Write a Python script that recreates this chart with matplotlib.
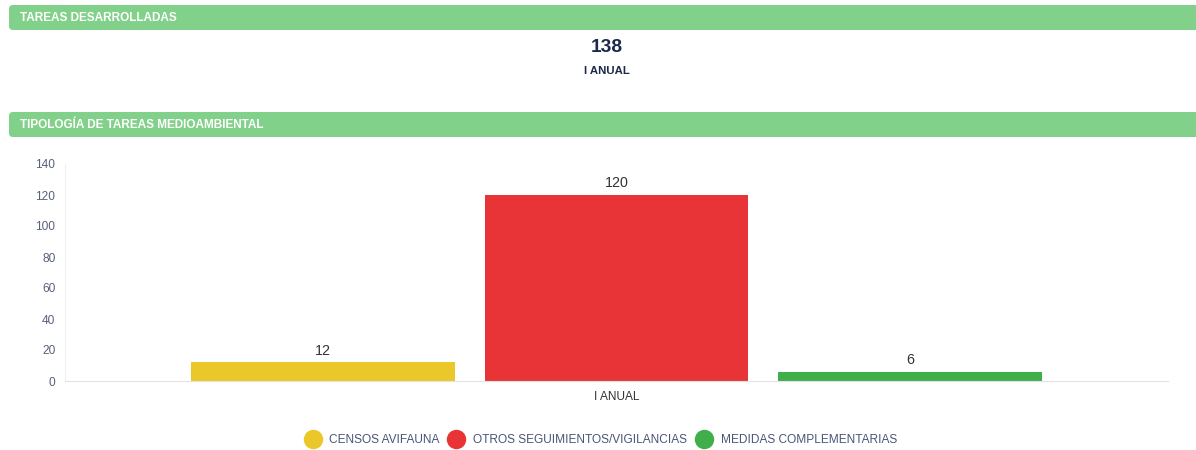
import numpy as np
import matplotlib.pyplot as plt
from matplotlib.patches import FancyBboxPatch

# datos del gráfico
categoria = ["I ANUAL"]
series = ["CENSOS AVIFAUNA", "OTROS SEGUIMIENTOS/VIGILANCIAS", "MEDIDAS COMPLEMENTARIAS"]
valores = [12, 120, 6]
colores = ["#EBC82A", "#E83436", "#41AE4C"]
total_tareas = 138
y_ticks = [0, 20, 40, 60, 80, 100, 120, 140]

W, H = 1196, 450
fig = plt.figure(figsize=(W / 100, H / 100), dpi=100)
plt.rcParams['font.family'] = ['Liberation Sans', 'DejaVu Sans']

verde = "#82D18A"
texto = "#1B2A4A"
eje = "#56607A"


def cabecera(y0, y1, titulo):
    # banda verde con título blanco
    ax_h = fig.add_axes([0, 0, 1, 1], zorder=-1)
    ax_h.set_xlim(0, W)
    ax_h.set_ylim(H, 0)
    ax_h.axis("off")
    ax_h.add_patch(FancyBboxPatch((9, y0), W, y1 - y0,
                                  boxstyle="round,pad=0,rounding_size=4",
                                  fc=verde, ec="none"))
    ax_h.text(20, (y0 + y1) / 2 + 0.5, titulo, color="white", fontsize=8.5,
              fontweight="bold", va="center", ha="left")


cabecera(5, 30, "TAREAS DESARROLLADAS")
cabecera(112, 137, "TIPOLOGÍA DE TAREAS MEDIOAMBIENTAL")

fig.text(607 / W, 1 - 47 / H, str(total_tareas), ha="center", va="center",
         fontsize=13.8, fontweight="bold", color=texto)
fig.text(607 / W, 1 - 71 / H, categoria[0], ha="center", va="center",
         fontsize=8.2, fontweight="bold", color=texto)

# área del gráfico de barras
x0, x1 = 65, 1168
y_top, y_bot = 164, 381
ax = fig.add_axes([x0 / W, 1 - y_bot / H, (x1 - x0) / W, (y_bot - y_top) / H])
ancho = 0.2393
paso = 0.2665
for i, (s, v, c) in enumerate(zip(series, valores, colores)):
    pos = (i - 1) * paso
    ax.bar(pos, v, width=ancho, color=c, label=s, zorder=2)
    ax.text(pos, v + 3, str(v), ha="center", va="bottom", fontsize=10.3, color="#333333")

ax.set_xlim(-0.5, 0.5)
ax.set_ylim(0, 140)
ax.set_yticks(y_ticks)
ax.set_xticks([0])
ax.set_xticklabels(categoria)
ax.tick_params(axis="y", length=0, pad=7, labelsize=8.6, labelcolor=eje)
ax.tick_params(axis="x", length=0, pad=7, labelsize=8.6, labelcolor="#333333")
for lado in ["top", "right"]:
    ax.spines[lado].set_visible(False)
ax.spines["left"].set_color("#F0F0F0")
ax.spines["bottom"].set_color("#E3E3E3")

# leyenda con círculos
handles = [plt.Line2D([], [], marker="o", linestyle="none", markersize=14,
                      markerfacecolor=c, markeredgecolor="none") for c in colores]
fig.legend(handles, series, loc="center", bbox_to_anchor=(600 / W, 1 - 440 / H),
           ncol=3, frameon=False, fontsize=8.6, handletextpad=0.6,
           columnspacing=0.6, handlelength=1.6, labelcolor="#4A5578")

fig.savefig("out.png", dpi=100)
